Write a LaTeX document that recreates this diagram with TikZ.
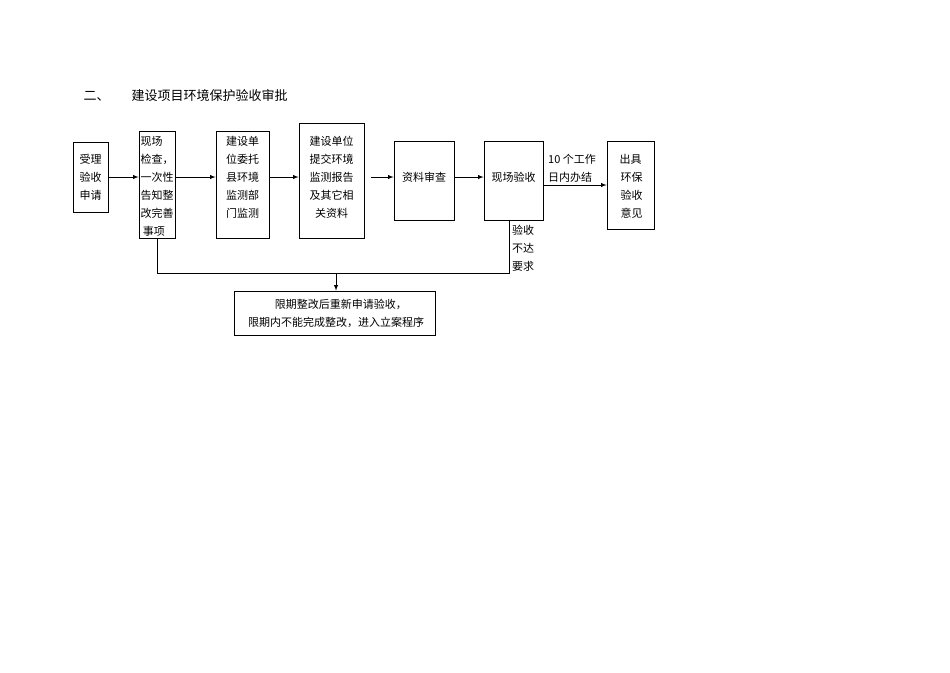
\documentclass[tikz,border=0pt]{standalone}
\usepackage{fontspec}
\newfontfamily\cjk{Noto Sans CJK SC}
\begin{document}
\begin{tikzpicture}[x=1pt,y=-1pt,
  box/.style={draw,line width=0.8pt,inner sep=0pt},
  txt/.style={font=\cjk\fontsize{11}{18}\selectfont,align=center,inner sep=0pt},
  arr/.style={-latex,line width=0.9pt}]
\useasboundingbox (0,0) rectangle (950,672);
\node[font=\cjk\fontsize{13}{16}\selectfont,anchor=west] (t1) at (80,96) {二、};
\node[font=\cjk\fontsize{13}{16}\selectfont,anchor=west] (t2) at (128,96) {建设项目环境保护验收审批};
\node[box,minimum width=35pt,minimum height=70pt] (a) at (90.5,177) {};
\node[txt] (at) at (a.center) {受理\\验收\\申请};
\node[box,minimum width=36pt,minimum height=107pt] (b) at (157,184.5) {};
\node[txt,align=left] (bt) at (157,186) {现场\\检查，\\一次性\\告知整\\改完善\\\ 事项};
\node[box,minimum width=53pt,minimum height=107pt] (c) at (242.5,184.5) {};
\node[txt] (ct) at (242.5,177) {建设单\\位委托\\县环境\\监测部\\门监测};
\node[box,minimum width=65pt,minimum height=115pt] (d) at (331.5,180.5) {};
\node[txt] (dt) at (331.5,177) {建设单位\\提交环境\\监测报告\\及其它相\\关资料};
\node[box,minimum width=60pt,minimum height=79pt] (e) at (424,180.5) {};
\node[txt] (et) at (424,177) {资料审查};
\node[box,minimum width=59pt,minimum height=79pt] (f) at (513.5,180.5) {};
\node[txt] (ft) at (513.5,177) {现场验收};
\node[box,minimum width=47pt,minimum height=88pt] (g) at (630.5,185) {};
\node[txt] (gt) at (630.5,186) {出具\\\ 环保\\\ 验收\\\ 意见};
\node[box,minimum width=201pt,minimum height=44pt] (h) at (334.5,313) {};
\node[txt] (ht) at (336,313) {\ \ \ \ 限期整改后重新申请验收，\\限期内不能完成整改，进入立案程序};
\node[txt,align=left,anchor=west] (l1) at (548,168) {10 个工作\\日内办结};
\node[txt] (l2) at (523,248) {验收\\不达\\要求};
\draw[arr] (a.east |- 0,177) -- (b.west |- 0,177);
\draw[arr] (b.east |- 0,177) -- (c.west |- 0,177);
\draw[arr] (c.east |- 0,177) -- (d.west |- 0,177);
\draw[arr] (371,177) -- (e.west |- 0,177);
\draw[arr] (e.east |- 0,177) -- (f.west |- 0,177);
\draw[arr] (f.east |- 0,185) -- (g.west |- 0,185);
\coordinate (m) at (336,273);
\draw[line width=0.8pt] (b.south) -- (157,273) -- (509,273) -- (f.south -| 509,0);
\draw[arr] (m) -- (h.north -| m);
\end{tikzpicture}
\end{document}
